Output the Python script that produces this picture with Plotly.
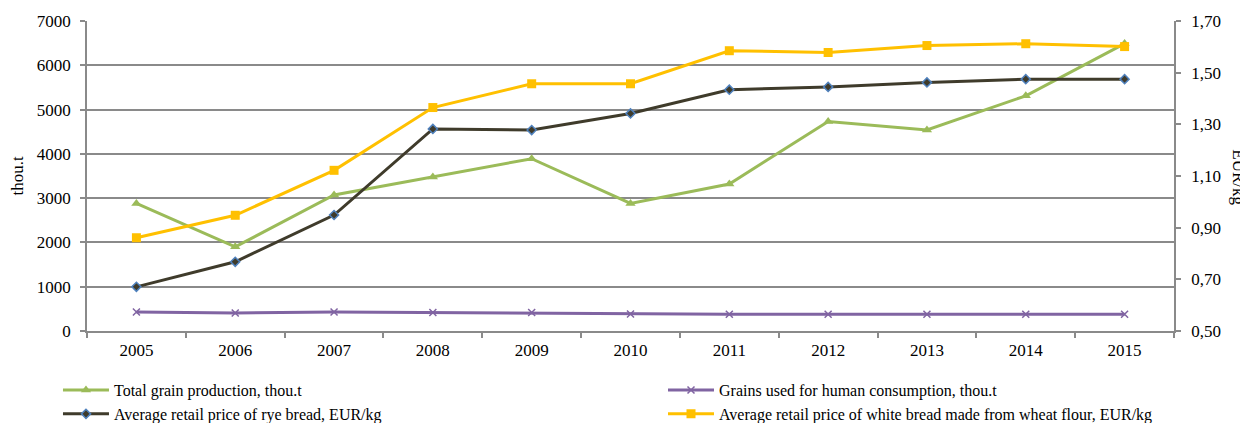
import plotly.graph_objects as go

years = ["2005", "2006", "2007", "2008", "2009", "2010", "2011", "2012", "2013", "2014", "2015"]
total_grain = [2880, 1900, 3070, 3480, 3890, 2880, 3320, 4730, 4540, 5310, 6490]
grains_human = [430, 407, 430, 416, 416, 385, 380, 380, 380, 380, 380]
rye_price = [0.671, 0.768, 0.949, 1.282, 1.278, 1.342, 1.434, 1.445, 1.462, 1.475, 1.475]
white_price = [0.861, 0.948, 1.122, 1.365, 1.457, 1.457, 1.585, 1.578, 1.605, 1.612, 1.601]

left_ticks = [0, 1000, 2000, 3000, 4000, 5000, 6000, 7000]
right_ticks = [0.5, 0.7, 0.9, 1.1, 1.3, 1.5, 1.7]

FONT = "Liberation Serif"
GRID = "#8a8a8a"


def f(size):
    return dict(family=FONT, size=size, color="black")


fig = go.Figure()
fig.add_trace(go.Scatter(x=years, y=total_grain, name="Total grain production, thou.t",
                         mode="lines+markers", line=dict(color="#9bbb59", width=3),
                         marker=dict(symbol="triangle-up", size=9, color="#9bbb59"),
                         legend="legend"))
fig.add_trace(go.Scatter(x=years, y=grains_human, name="Grains used for human consumption, thou.t",
                         mode="lines+markers", line=dict(color="#8064a2", width=3),
                         marker=dict(symbol="x-thin", size=7, line=dict(color="#8064a2", width=1.5)),
                         legend="legend2"))
fig.add_trace(go.Scatter(x=years, y=rye_price, name="Average retail price of rye bread, EUR/kg",
                         mode="lines+markers", yaxis="y2", line=dict(color="#3f3b2b", width=3),
                         marker=dict(symbol="diamond", size=7, color="#3f3b2b",
                                     line=dict(color="#4f81bd", width=1.5)),
                         legend="legend"))
fig.add_trace(go.Scatter(x=years, y=white_price, name="Average retail price of white bread made from wheat flour, EUR/kg",
                         mode="lines+markers", yaxis="y2", line=dict(color="#ffc000", width=3),
                         marker=dict(symbol="square", size=9, color="#ffc000"),
                         legend="legend2"))

axis_common = dict(showline=True, linecolor=GRID, linewidth=1.5, ticks="outside", ticklen=5,
                   tickcolor=GRID, tickwidth=1.5, tickfont=f(17))

fig.update_layout(
    width=1240, height=415,
    margin=dict(l=79, r=74, t=13, b=92, autoexpand=False),
    paper_bgcolor="white", plot_bgcolor="white",
    font=f(17),
    separators=",.",
    showlegend=True,
    xaxis=dict(type="category", showgrid=False, tickson="boundaries", range=[-0.5, 10.5],
               ticklabelstandoff=3, **axis_common),
    yaxis=dict(range=[0, 7000], tickvals=left_ticks, tickformat="d", showgrid=True,
               gridcolor=GRID, gridwidth=1.5, zeroline=False, ticklabelstandoff=6,
               title=dict(text="thou.t", font=f(17), standoff=12), **axis_common),
    yaxis2=dict(range=[0.5, 1.7], tickvals=right_ticks, tickformat=".2f", overlaying="y",
                side="right", showgrid=False, zeroline=False, ticklabelstandoff=7,
                **axis_common),
    legend=dict(orientation="v", x=-0.0267, xanchor="left", y=-0.136, yanchor="top",
                tracegroupgap=0, itemwidth=46, font=f(16), bgcolor="rgba(0,0,0,0)"),
    legend2=dict(orientation="v", x=0.5299, xanchor="left", y=-0.136, yanchor="top",
                 tracegroupgap=0, itemwidth=46, font=f(16), bgcolor="rgba(0,0,0,0)"),
    annotations=[dict(text="EUR/kg", textangle=90, xref="paper", yref="paper",
                      x=1.0585, y=0.497, xanchor="center", yanchor="middle",
                      showarrow=False, font=f(17))],
)

fig.write_html("out.html")
